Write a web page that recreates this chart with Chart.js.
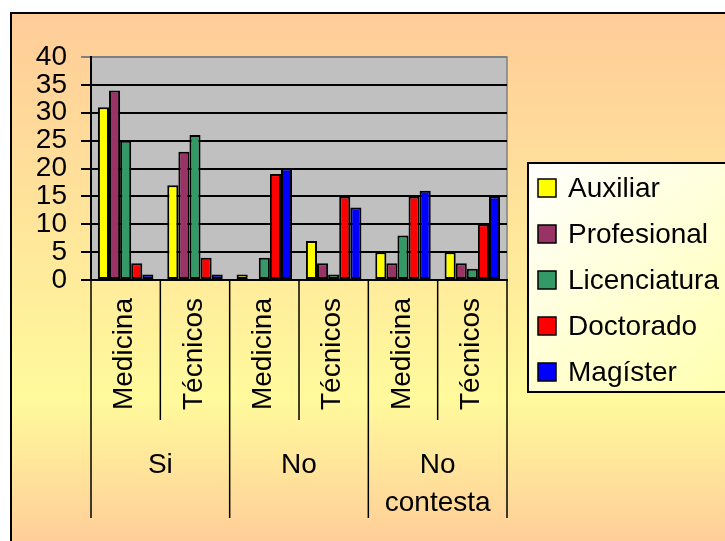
<!DOCTYPE html>
<html>
<head>
<meta charset="utf-8">
<script src="https://cdn.jsdelivr.net/npm/chart.js@4/dist/chart.umd.min.js"></script>
<style>
  html, body { margin: 0; padding: 0; background: #fff; }
  canvas { display: block; }
</style>
</head>
<body>
<canvas id="myChart" width="725" height="541"></canvas>
<script>
// data
const categories = ["Medicina", "Técnicos", "Medicina", "Técnicos", "Medicina", "Técnicos"];
const groups = [["Si"], ["No"], ["No", "contesta"]];
const seriesNames = ["Auxiliar", "Profesional", "Licenciatura", "Doctorado", "Magíster"];
const auxiliar = [31, 17, 1, 7, 5, 5];
const profesional = [34, 23, 0, 3, 3, 3];
const licenciatura = [25, 26, 4, 1, 8, 2];
const doctorado = [3, 4, 19, 15, 15, 10];
const magister = [1, 1, 20, 13, 16, 15];
const yMax = 40;
const yStep = 5;

const colors = ["#FFFF00", "#993366", "#339966", "#FF0000", "#0000FF"];
const font = "Liberation Sans, Arial, sans-serif";

const datasets = [auxiliar, profesional, licenciatura, doctorado, magister].map((d, i) => ({
  label: seriesNames[i],
  data: d,
  backgroundColor: colors[i],
  borderColor: "#000",
  borderWidth: 2,
  borderSkipped: false,
  categoryPercentage: 0.8,
  barPercentage: 1.0,
}));

// frame + plot background
const backgroundPlugin = {
  id: "background",
  beforeDraw(chart) {
    const ctx = chart.ctx;
    const a = chart.chartArea;
    ctx.save();
    ctx.fillStyle = "#fff";
    ctx.fillRect(0, 0, chart.width, chart.height);
    let g = ctx.createLinearGradient(0, 12, 0, 548);
    g.addColorStop(0, "#FFCC99");
    g.addColorStop(0.72, "#FFFA9C");
    g.addColorStop(1, "#FFCC99");
    ctx.fillStyle = g;
    ctx.fillRect(10, 12, 760, 560);
    ctx.strokeStyle = "#000";
    ctx.lineWidth = 2;
    ctx.strokeRect(11, 13, 760, 560);
    ctx.fillStyle = "#C0C0C0";
    ctx.fillRect(a.left, a.top, a.right - a.left, a.bottom - a.top);
    ctx.strokeStyle = "#808080";
    ctx.lineWidth = 1.5;
    ctx.beginPath();
    ctx.moveTo(a.left, a.top);
    ctx.lineTo(a.right, a.top);
    ctx.lineTo(a.right, a.bottom);
    ctx.stroke();
    ctx.restore();
  },
};

// two level category axis + boxed legend
const labelsPlugin = {
  id: "labels",
  afterDraw(chart) {
    const ctx = chart.ctx;
    const xs = chart.scales.x;
    const a = chart.chartArea;
    const px = (i) => xs.getPixelForValue(i);
    ctx.save();
    ctx.fillStyle = "#000";
    ctx.font = "28px " + font;

    // rotated sub labels
    for (let i = 0; i < categories.length; i++) {
      ctx.save();
      ctx.translate(px(i) - 1, 298);
      ctx.rotate(-Math.PI / 2);
      ctx.textAlign = "right";
      ctx.textBaseline = "middle";
      ctx.fillText(categories[i], 0, 0);
      ctx.restore();
    }

    ctx.strokeStyle = "#000";
    ctx.lineWidth = 1.5;
    // inner separators
    for (let g = 0; g < groups.length; g++) {
      const x = (px(2 * g) + px(2 * g + 1)) / 2;
      ctx.beginPath();
      ctx.moveTo(x, a.bottom);
      ctx.lineTo(x, 420);
      ctx.stroke();
    }
    // outer separators
    for (let g = 0; g <= groups.length; g++) {
      let x;
      if (g == 0) x = xs.left;
      else if (g == groups.length) x = xs.right;
      else x = (px(2 * g - 1) + px(2 * g)) / 2;
      ctx.beginPath();
      ctx.moveTo(x, a.bottom);
      ctx.lineTo(x, 518);
      ctx.stroke();
    }
    // group labels
    ctx.textAlign = "center";
    ctx.textBaseline = "middle";
    for (let g = 0; g < groups.length; g++) {
      const x = (px(2 * g) + px(2 * g + 1)) / 2;
      groups[g].forEach((line, k) => ctx.fillText(line, x, 465 + k * 38));
    }

    // legend
    const lx = 528, ly = 163;
    let lg = ctx.createLinearGradient(lx, ly, lx + 200, ly + 230);
    lg.addColorStop(0, "#FFFFFF");
    lg.addColorStop(1, "#FFFFB0");
    ctx.fillStyle = lg;
    ctx.fillRect(lx, ly, 220, 229);
    ctx.lineWidth = 2;
    ctx.strokeRect(lx, ly, 220, 229);
    ctx.textAlign = "left";
    chart.data.datasets.forEach((ds, k) => {
      const y = 188 + k * 46;
      ctx.fillStyle = ds.backgroundColor;
      ctx.fillRect(538, y - 9, 18, 18);
      ctx.lineWidth = 1.5;
      ctx.strokeStyle = "#000";
      ctx.strokeRect(538, y - 9, 18, 18);
      ctx.fillStyle = "#000";
      ctx.fillText(ds.label, 568, y + 1);
    });
    ctx.restore();
  },
};

const chart = new Chart(document.getElementById("myChart"), {
  type: "bar",
  data: { labels: categories, datasets: datasets },
  plugins: [backgroundPlugin, labelsPlugin],
  options: {
    responsive: false,
    animation: false,
    layout: { padding: { top: 57, bottom: 261, left: 0, right: 218 } },
    plugins: { legend: { display: false }, tooltip: { enabled: false } },
    scales: {
      x: {
        ticks: { display: false },
        grid: { display: false },
        border: { display: true, color: "#000", width: 2 },
        afterFit: (s) => { s.height = 0; },
      },
      y: {
        min: 0,
        max: yMax,
        ticks: {
          stepSize: yStep,
          autoSkip: false,
          color: "#000",
          font: { family: font, size: 28 },
          padding: 14,
        },
        grid: {
          color: (c) => (c.tick && c.tick.value == yMax ? "#808080" : "#000"),
          lineWidth: 2,
          tickLength: 10,
        },
        border: { display: true, color: "#000", width: 2 },
        afterFit: (s) => { s.width = 91; },
      },
    },
  },
});
</script>
</body>
</html>
